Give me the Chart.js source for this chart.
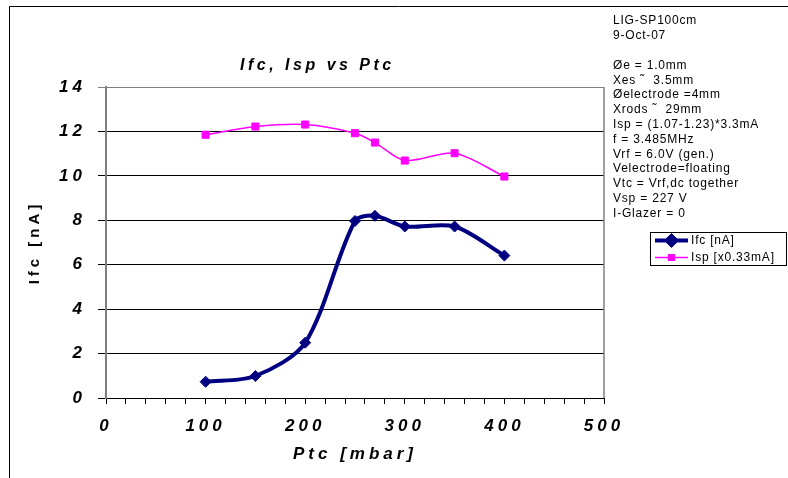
<!DOCTYPE html>
<html>
<head>
<meta charset="utf-8">
<script src="https://cdn.jsdelivr.net/npm/chart.js@4.4.1/dist/chart.umd.min.js"></script>
<style>
  body { margin: 0; background: #fff; }
  canvas { display: block; }
</style>
</head>
<body>
<canvas id="chart" width="788" height="478"></canvas>
<script>
const ptc = [100, 150, 200, 250, 270, 300, 350, 400]
const ifc = [0.73, 0.99, 2.49, 7.97, 8.2, 7.72, 7.72, 6.41]
const isp = [11.85, 12.22, 12.31, 11.92, 11.5, 10.69, 11.02, 9.97]

const chartTitle = 'Ifc, Isp vs Ptc'
const notes = [
  'LIG-SP100cm',
  '9-Oct-07',
  '',
  'Øe = 1.0mm',
  'Xes ˜  3.5mm',
  'Øelectrode =4mm',
  'Xrods ˜  29mm',
  'Isp = (1.07-1.23)*3.3mA',
  'f = 3.485MHz',
  'Vrf = 6.0V (gen.)',
  'Velectrode=floating',
  'Vtc = Vrf,dc together',
  'Vsp = 227 V',
  'I-Glazer = 0',
]

const family = "'Liberation Sans', Arial, sans-serif"
const boldItalic = { family: family, size: 17, style: 'italic', weight: 'bold' }

function toPoints(ys) {
  return ptc.map(function(x, i) { return { x: x, y: ys[i] } })
}

// extra drawing: frame, title, notes and the legend box
const decorations = {
  id: 'decorations',
  beforeUpdate(chart) { chart.ctx.letterSpacing = '4px' },
  beforeDraw(chart) { chart.ctx.letterSpacing = '4px' },
  afterDraw(chart) {
    const ctx = chart.ctx
    const area = chart.chartArea
    ctx.save()

    // right border of the plot
    ctx.strokeStyle = '#808080'
    ctx.lineWidth = 1.5
    ctx.beginPath()
    ctx.moveTo(area.right, area.top)
    ctx.lineTo(area.right, area.bottom)
    ctx.stroke()

    // outer frame
    ctx.strokeStyle = '#000'
    ctx.lineWidth = 1
    ctx.beginPath()
    ctx.moveTo(9.5, 478)
    ctx.lineTo(9.5, 6.5)
    ctx.lineTo(788, 6.5)
    ctx.stroke()

    // title
    ctx.fillStyle = '#000'
    ctx.letterSpacing = '3.5px'
    ctx.font = 'italic bold 16px ' + family
    ctx.textAlign = 'left'
    ctx.textBaseline = 'alphabetic'
    ctx.fillText(chartTitle, 240, 70)

    // notes
    ctx.letterSpacing = '0.8px'
    ctx.font = '12px ' + family
    ctx.textBaseline = 'middle'
    notes.forEach(function(line, i) {
      ctx.fillText(line, 613, 21 + i * 14.8)
    })

    // legend
    ctx.strokeStyle = '#000'
    ctx.lineWidth = 1
    ctx.strokeRect(650.5, 232.5, 136, 33)
    chart.data.datasets.forEach(function(ds, i) {
      const y = 240.5 + i * 17
      ctx.strokeStyle = ds.borderColor
      ctx.lineWidth = ds.borderWidth
      ctx.beginPath()
      ctx.moveTo(655, y)
      ctx.lineTo(688, y)
      ctx.stroke()
      Chart.helpers.drawPoint(ctx, {
        pointStyle: ds.pointStyle,
        radius: ds.pointRadius - 1,
        borderWidth: 1,
        rotation: 0
      }, 671.5, y)
      ctx.fillStyle = ds.backgroundColor
      ctx.strokeStyle = ds.borderColor
      ctx.fill()
      ctx.stroke()
      ctx.fillStyle = '#000'
      ctx.fillText(ds.label, 691, y)
    })

    ctx.restore()
  }
}

const chart = new Chart(document.getElementById('chart'), {
  type: 'line',
  data: {
    datasets: [
      {
        label: 'Ifc [nA]',
        data: toPoints(ifc),
        borderColor: '#000080',
        backgroundColor: '#000080',
        borderWidth: 4,
        pointStyle: 'rectRot',
        pointRadius: 5.5,
        pointBorderWidth: 1,
        tension: 0.3
      },
      {
        label: 'Isp [x0.33mA]',
        data: toPoints(isp),
        borderColor: '#FF00FF',
        backgroundColor: '#FF00FF',
        borderWidth: 1.5,
        pointStyle: 'rect',
        pointRadius: 5,
        pointBorderWidth: 1,
        tension: 0.3
      }
    ]
  },
  options: {
    responsive: false,
    animation: false,
    layout: { padding: { top: 87, right: 184, left: 0, bottom: 0 } },
    plugins: {
      legend: { display: false },
      title: { display: false },
      tooltip: { enabled: false }
    },
    scales: {
      x: {
        type: 'linear',
        min: 0,
        max: 500,
        afterFit: function(scale) { scale.height = 80 },
        ticks: {
          stepSize: 20,
          autoSkip: false,
          maxRotation: 0,
          padding: 12,
          color: '#000',
          font: boldItalic,
          callback: function(v) { return v % 100 === 0 ? v : '' }
        },
        grid: { drawOnChartArea: false, drawTicks: true, tickLength: 6, color: '#000' },
        border: { color: '#000', width: 1 },
        title: {
          display: true,
          text: 'Ptc [mbar]',
          color: '#000',
          font: boldItalic,
          padding: { top: 0, bottom: 13 }
        }
      },
      y: {
        min: 0,
        max: 14,
        afterFit: function(scale) { scale.width = 106 },
        ticks: {
          stepSize: 2,
          padding: 12,
          color: '#000',
          font: boldItalic
        },
        grid: {
          tickLength: 8,
          color: function(c) { return c.tick && c.tick.value === 14 ? '#808080' : '#000' }
        },
        border: { color: '#808080', width: 2 },
        title: {
          display: true,
          text: 'Ifc [nA]',
          color: '#000',
          font: { family: family, size: 15, weight: 'bold' },
          padding: { top: 26, bottom: 0 }
        }
      }
    }
  },
  plugins: [decorations]
})
</script>
</body>
</html>
